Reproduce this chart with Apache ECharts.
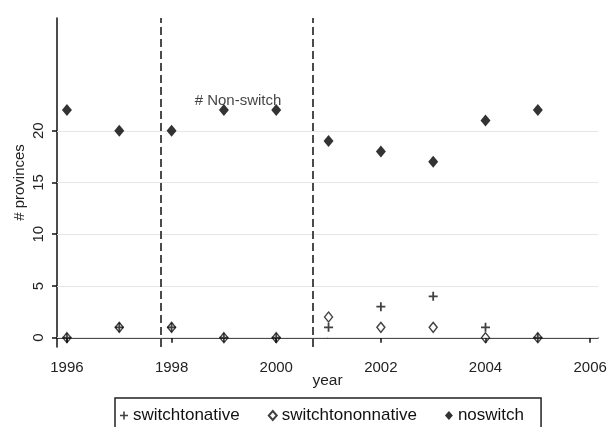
<!DOCTYPE html>
<html><head><meta charset="utf-8">
<script src="https://cdn.jsdelivr.net/npm/echarts@6/dist/echarts.min.js"></script>
<style>html,body{margin:0;padding:0;background:#fff}#c{width:607px;height:427px}</style>
</head><body><div id="c"></div>
<script>
const years = [1996,1997,1998,1999,2000,2001,2002,2003,2004,2005];
const switchtonative = [0,1,1,0,0,1,3,4,1,0];
const switchtononnative = [0,1,1,0,0,2,1,1,0,0];
const noswitch = [22,20,20,22,22,19,18,17,21,22];
const xTicks = [1996,1998,2000,2002,2004,2006];
const yTicks = [0,5,10,15,20];
const periodBreaks = [1997.8, 2000.7];
const annotation = {text:'# Non-switch', x:1999.27, y:22.9};

const F = 'Liberation Sans, Arial, sans-serif';
const plus = 'path://M4,0H6V4H10V6H6V10H4V6H0V4H4Z';
const pair = (arr) => years.map((y,i)=>[y,arr[i]]);

const chart = echarts.init(document.getElementById('c'));
chart.setOption({
  animation:false,
  backgroundColor:'#fff',
  grid:{left:57,right:9,top:18,bottom:80,outerBoundsMode:'none',containLabel:false},
  xAxis:{type:'value',min:1995.81,max:2006.15,
    name:'year',nameLocation:'middle',nameGap:26,nameMoveOverlap:false,
    nameTextStyle:{fontFamily:F,fontSize:15.5,color:'#222'},
    axisLine:{lineStyle:{color:'#111',width:1.5}},
    axisTick:{show:true,length:5,lineStyle:{color:'#111',width:1.5},customValues:xTicks},
    axisLabel:{customValues:xTicks,formatter:v=>String(v),fontFamily:F,fontSize:15,color:'#222',margin:13},
    splitLine:{show:false}},
  yAxis:{type:'value',min:-0.9,max:30.9,
    name:'# provinces',nameLocation:'middle',nameGap:30,nameRotate:90,nameMoveOverlap:false,
    nameTextStyle:{fontFamily:F,fontSize:15,color:'#222'},
    axisLine:{show:true,lineStyle:{color:'#111',width:1.5}},
    axisTick:{show:true,length:5,lineStyle:{color:'#111',width:1.5},customValues:yTicks},
    axisLabel:{customValues:yTicks,rotate:90,fontFamily:F,fontSize:15,color:'#222',margin:11},
    splitLine:{show:false}},
  legend:{data:['switchtonative','switchtononnative','noswitch'],
    left:115,top:398,itemGap:28,itemWidth:8,itemHeight:9,
    borderColor:'#222',borderWidth:1.5,padding:[9,17,30,5],
    textStyle:{fontFamily:F,fontSize:17,color:'#111'}},
  series:[
    {name:'switchtonative',type:'scatter',symbol:plus,symbolSize:9,
      itemStyle:{color:'#111'},data:pair(switchtonative),z:3},
    {name:'switchtononnative',type:'scatter',symbol:'diamond',symbolSize:[8,10],
      itemStyle:{color:'rgba(255,255,255,0)',borderColor:'#111',borderWidth:1.4},data:pair(switchtononnative),z:4,
      markLine:{silent:true,symbol:'none',label:{show:false},
        lineStyle:{color:'#111',width:1.5,type:[8,4]},
        data:periodBreaks.map(v=>({xAxis:v}))}},
    {name:'noswitch',type:'scatter',symbol:'diamond',symbolSize:[10,12],
      itemStyle:{color:'#000'},data:pair(noswitch),z:5,
      markLine:{silent:true,symbol:'none',label:{show:false},
        lineStyle:{color:'#e6e6e6',width:1,type:'solid'},z:1,
        data:yTicks.map(v=>({yAxis:v}))}},
    {name:'annot',type:'scatter',symbolSize:0,silent:true,
      data:[[annotation.x,annotation.y]],
      label:{show:true,formatter:annotation.text,position:'inside',fontFamily:F,fontSize:15,color:'#111'}}
  ]
});
</script></body></html>
